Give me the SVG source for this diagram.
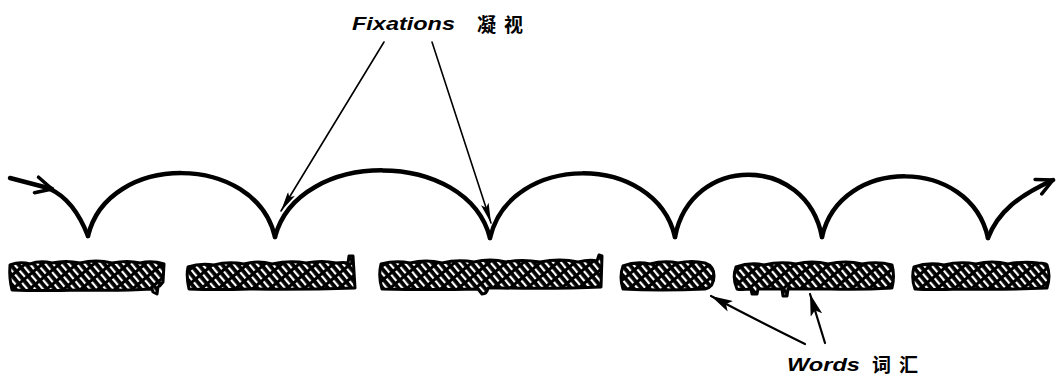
<svg xmlns="http://www.w3.org/2000/svg" width="1060" height="379" viewBox="0 0 1060 379">
<style>
.lbl{font-family:"Liberation Sans","Noto Sans CJK SC",sans-serif;font-style:italic;font-weight:bold;font-size:18px;fill:#000}
.cjk{font-family:"Noto Sans CJK SC",sans-serif;font-weight:bold;font-size:19px;letter-spacing:8px;fill:#000}
.arc{fill:none;stroke:#000;stroke-width:4.5;stroke-linecap:round;stroke-linejoin:round}
.ptr{fill:none;stroke:#000;stroke-width:1.6;stroke-linecap:round}
.ptr2{fill:none;stroke:#000;stroke-width:2.2;stroke-linecap:round}
.word{fill:url(#hatch);stroke:#000;stroke-width:3;stroke-linejoin:round}
</style>
<defs>
<pattern id="hatch" width="6" height="11" patternUnits="userSpaceOnUse" patternTransform="rotate(-40)">
<rect width="6" height="11" fill="#000"/>
<rect x="2" y="0" width="2.2" height="8" fill="#fff"/>
</pattern>
<marker id="open" viewBox="0 0 20 20" refX="18" refY="10" markerWidth="20" markerHeight="20" markerUnits="userSpaceOnUse" orient="auto">
<path d="M2,2 L18,10 L2,18" fill="none" stroke="#000" stroke-width="3.5" stroke-linecap="round" stroke-linejoin="round"/>
</marker>
<marker id="thin" viewBox="0 0 20 8" refX="20" refY="4" markerWidth="20" markerHeight="8" markerUnits="userSpaceOnUse" orient="auto">
<path d="M0,0 L20,4 L0,8 L4,4 Z" fill="#000"/>
</marker>
<marker id="bold" viewBox="0 0 22 12" refX="22" refY="6" markerWidth="22" markerHeight="12" markerUnits="userSpaceOnUse" orient="auto">
<path d="M0,0 L22,6 L0,12 L5,6 Z" fill="#000"/>
</marker>
</defs>

<g id="connectors">
<path class="arc" d="M10,178 L52,189" marker-end="url(#open)"/>
<path class="arc" d="M50,189 Q74,200 88,236"/>
<path class="arc" d="M88,236 C108,152 255,152 275,237"/>
<path class="arc" d="M275,237 C298,148 467,148 490,238"/>
<path class="arc" d="M490,238 C510,152 655,152 675,237"/>
<path class="arc" d="M675,237 C691,154 806,154 822,237"/>
<path class="arc" d="M822,237 C840,156 970,156 988,238"/>
<path class="arc" d="M988,238 C998,212 1018,196 1053,180" marker-end="url(#open)"/>
<path class="ptr" d="M384,42 L281,211" marker-end="url(#thin)"/>
<path class="ptr" d="M432,42 L491,223" marker-end="url(#thin)"/>
<path class="ptr2" d="M805,344 Q760,322 711,296" marker-end="url(#bold)"/>
<path class="ptr2" d="M825,343 L810,294" marker-end="url(#bold)"/>
</g>

<g id="label-fixations">
<text class="lbl" x="352" y="30" textLength="103" lengthAdjust="spacingAndGlyphs">Fixations</text>
<text class="cjk" x="477" y="32">凝视</text>
</g>

<g id="label-words">
<text class="lbl" x="787" y="371" textLength="73" lengthAdjust="spacingAndGlyphs">Words</text>
<text class="cjk" x="872" y="372">词汇</text>
</g>

<g id="word-1">
<path class="word" d="M10,265 Q20,261 30,264 Q40,260 52,263 Q66,260 80,263 Q96,259 112,263 Q128,260 140,263 Q152,260 164,264 L163,282 Q160,286 158,287 L157,294 L153,292 L152,289 Q120,291 80,290 Q40,291 12,290 Q9,278 10,265 Z"/>
</g>
<g id="word-2">
<path class="word" d="M188,267 Q200,263 214,265 Q228,261 244,264 Q258,260 272,264 Q290,260 306,263 Q322,260 336,263 Q344,262 348,263 L349,256 L353,256 L355,288 Q300,290 250,289 Q215,290 189,289 Q186,276 188,267 Z"/>
</g>
<g id="word-3">
<path class="word" d="M381,264 Q396,260 410,263 Q426,259 442,263 Q458,259 474,262 Q490,258 506,262 Q522,259 540,262 Q560,258 578,262 Q590,259 597,261 L599,255 L602,256 L601,287 Q560,289 500,288 L488,288 Q487,294 482,294 L478,289 Q430,290 382,289 Q378,276 381,264 Z"/>
</g>
<g id="word-4">
<path class="word" d="M623,266 Q636,261 650,264 Q664,260 678,263 Q692,260 705,263 Q714,266 714,276 Q714,287 705,289 Q660,291 623,289 Q619,277 623,266 Z"/>
</g>
<g id="word-5">
<path class="word" d="M736,267 Q750,262 764,265 Q780,261 796,264 Q812,260 828,264 Q846,260 862,264 Q878,261 892,265 Q895,276 892,288 Q860,290 830,289 L788,289 L787,296 L783,296 L782,289 L758,289 L757,294 L752,294 L751,289 Q740,290 737,289 Q732,278 736,267 Z"/>
</g>
<g id="word-6">
<path class="word" d="M914,267 Q928,262 944,265 Q960,261 976,264 Q992,260 1008,264 Q1024,261 1038,263 Q1046,263 1047,265 Q1051,276 1047,288 Q1000,290 960,289 Q930,290 915,289 Q911,278 914,267 Z"/>
</g>
</svg>
